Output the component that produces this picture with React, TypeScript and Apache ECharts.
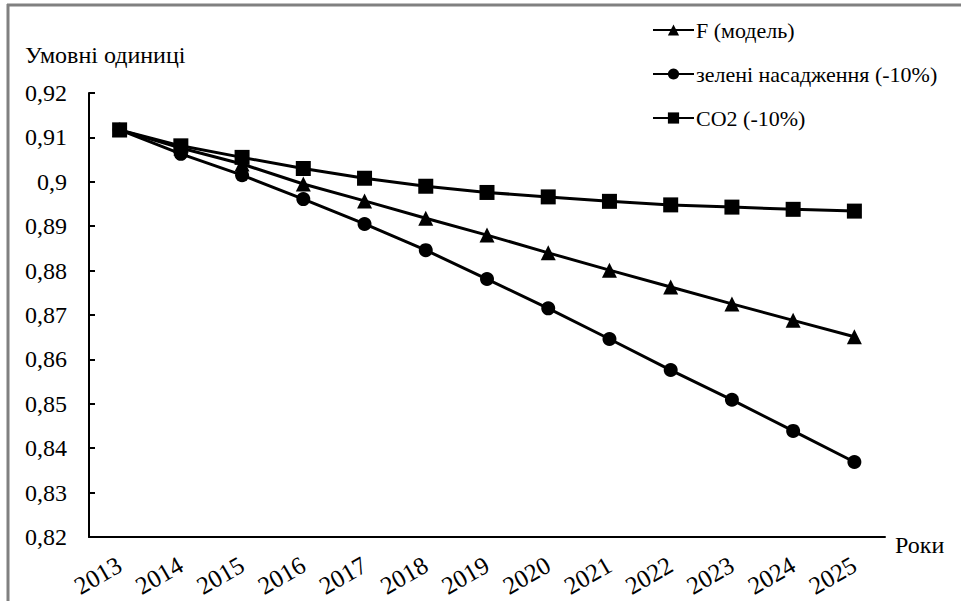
import React, { useEffect, useRef } from "react";
import * as echarts from "echarts";

const years = ["2013", "2014", "2015", "2016", "2017", "2018", "2019", "2020", "2021", "2022", "2023", "2024", "2025"];
const fModel = [0.9117, 0.9076, 0.9040, 0.8995, 0.8957, 0.8918, 0.8880, 0.8840, 0.8801, 0.8763, 0.8725, 0.8688, 0.8651];
const greenPlanting = [0.9117, 0.9063, 0.9015, 0.8961, 0.8905, 0.8846, 0.8781, 0.8715, 0.8646, 0.8576, 0.8509, 0.8439, 0.8369];
const co2 = [0.9117, 0.9081, 0.9055, 0.9030, 0.9008, 0.8990, 0.8976, 0.8966, 0.8956, 0.8948, 0.8943, 0.8938, 0.8934];
const seriesNames = ["F (модель)", "зелені насадження (-10%)", "CO2 (-10%)"];
const yTitle = "Умовні одиниці";
const xTitle = "Роки";

const FONT = "serif";

export default function App() {
  const ref = useRef<HTMLDivElement>(null);
  useEffect(() => {
    if (!ref.current) return;
    const chart = echarts.init(ref.current, undefined, { renderer: "svg" });
    const lineStyle = { color: "#000", width: 3 };
    chart.setOption({
      animation: false,
      backgroundColor: "#fff",
      textStyle: { fontFamily: FONT, color: "#000" },
      title: {
        text: yTitle,
        left: 20,
        top: 38,
        textStyle: { fontFamily: FONT, fontSize: 24, fontWeight: "normal", color: "#000" },
      },
      legend: {
        orient: "vertical",
        left: 647,
        top: 14,
        itemWidth: 41,
        itemHeight: 14,
        itemGap: 22,
        textStyle: { fontFamily: FONT, fontSize: 22, color: "#000", padding: [0, 0, 0, -3] },
        data: seriesNames,
      },
      grid: { left: 89, right: 76, top: 93, bottom: 64 },
      xAxis: {
        type: "category",
        data: years,
        boundaryGap: true,
        name: xTitle,
        nameLocation: "end",
        nameGap: 10,
        nameTextStyle: { fontFamily: FONT, fontSize: 24, color: "#000", align: "left", verticalAlign: "top", padding: [-4, 0, 0, 0] },
        axisLine: { lineStyle: { color: "#000", width: 2 } },
        axisTick: { inside: true, length: 6, lineStyle: { color: "#000", width: 2 } },
        axisLabel: { rotate: 30, margin: 26, fontFamily: FONT, fontSize: 25, color: "#000", interval: 0 },
        splitLine: { show: false },
      },
      yAxis: {
        type: "value",
        min: 0.82,
        max: 0.92,
        interval: 0.01,
        axisLine: { show: true, lineStyle: { color: "#000", width: 2 } },
        axisTick: { show: true, inside: true, length: 6, lineStyle: { color: "#000", width: 2 } },
        axisLabel: {
          margin: 22,
          fontFamily: FONT,
          fontSize: 24,
          color: "#000",
          formatter: (v: number) => String(+v.toFixed(2)).replace(".", ","),
        },
        splitLine: { show: false },
      },
      series: [
        {
          name: seriesNames[0],
          type: "line",
          data: fModel,
          symbol: "triangle",
          symbolSize: 15,
          lineStyle,
          itemStyle: { color: "#000" },
        },
        {
          name: seriesNames[1],
          type: "line",
          data: greenPlanting,
          symbol: "circle",
          symbolSize: 14,
          lineStyle,
          itemStyle: { color: "#000" },
        },
        {
          name: seriesNames[2],
          type: "line",
          data: co2,
          symbol: "rect",
          symbolSize: 15,
          lineStyle,
          itemStyle: { color: "#000" },
        },
      ],
      graphic: [
        { type: "line", shape: { x1: 7, y1: 5, x2: 961, y2: 5 }, style: { stroke: "#808080", lineWidth: 3 } },
        { type: "line", shape: { x1: 8, y1: 4, x2: 8, y2: 601 }, style: { stroke: "#808080", lineWidth: 3 } },
      ],
    });
    return () => chart.dispose();
  }, []);
  return <div ref={ref} style={{ position: "absolute", left: 0, top: 0, width: 961, height: 601 }} />;
}
